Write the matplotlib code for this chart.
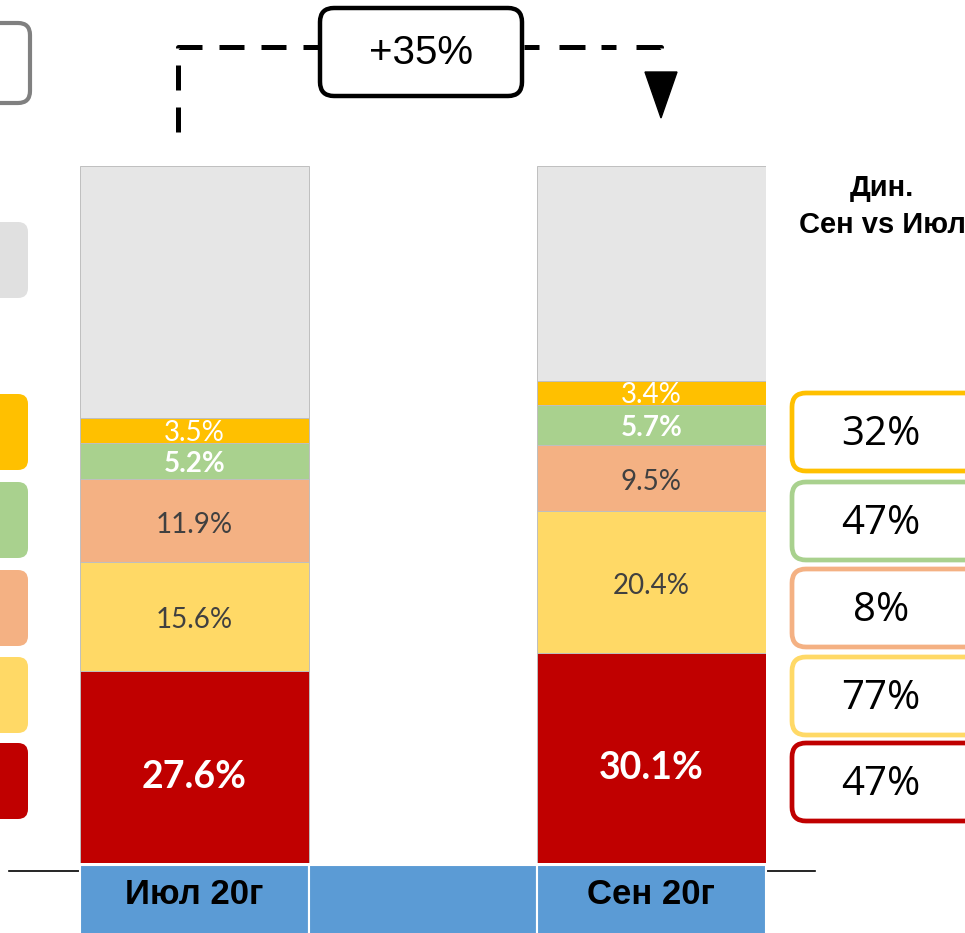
import numpy as np
import matplotlib.pyplot as plt
from matplotlib.patches import FancyBboxPatch, Rectangle, Polygon
from matplotlib.transforms import blended_transform_factory

# данные
months = ['Июл 20г', 'Сен 20г']
red_share = [27.6, 30.1]
yellow_share = [15.6, 20.4]
orange_share = [11.9, 9.5]
green_share = [5.2, 5.7]
gold_share = [3.5, 3.4]
dyn_labels = ['47%', '77%', '8%', '47%', '32%']   # снизу вверх
growth_label = '+35%'

colors = ['#C00000', '#FFD966', '#F4B183', '#A9D18E', '#FFC000']
grey = '#E6E6E6'

fig = plt.figure(figsize=(9.65, 9.33), dpi=100)

# оверлей в пикселях
ov = fig.add_axes([0, 0, 1, 1], zorder=0)
ov.set_xlim(0, 965)
ov.set_ylim(933, 0)
ov.axis('off')

# ось столбцов
ax = fig.add_axes([80/965, (933-863)/933, 685.5/965, (863-166)/933], zorder=1)
ax.patch.set_alpha(0)
x = np.arange(len(months))
series = [red_share, yellow_share, orange_share, green_share, gold_share]
bottom = np.zeros(len(months))
for vals, c in zip(series, colors):
    ax.bar(x, vals, 0.5, bottom=bottom, color=c, edgecolor='#BFBFBF', linewidth=0.7)
    bottom += np.array(vals)
rest = 100 - bottom
ax.bar(x, rest, 0.5, bottom=bottom, color=grey, edgecolor='#BFBFBF', linewidth=0.7)
ax.set_xlim(-0.25, 1.25)
ax.set_ylim(0, 100)
ax.axis('off')

# подписи сегментов
lab_font = 'Lato'
bottom = np.zeros(len(months))
for k, vals in enumerate(series):
    for i, v in enumerate(vals):
        yc = bottom[i] + v / 2
        if k == 0:
            ax.text(i, yc - 1.4, f'{v}%', ha='center', va='center', color='white',
                    fontsize=27, fontweight='bold', family=lab_font)
        elif k in (1, 2):
            ax.text(i, yc - 0.6, f'{v}%', ha='center', va='center', color='#404040',
                    fontsize=20, family=lab_font)
        elif k == 3:
            ax.text(i, yc - 0.4, f'{v}%', ha='center', va='center', color='white',
                    fontsize=20, fontweight='bold', family=lab_font)
        else:
            ax.text(i, yc - 0.3, f'{v}%', ha='center', va='center', color='white',
                    fontsize=20, family=lab_font)
    bottom += np.array(vals)

# ось категорий (синие ячейки)
tr = blended_transform_factory(ax.transData, ov.transData)
ov.plot([9, 815], [871, 871], color='black', lw=1.2, zorder=1)
for x0 in [-0.25, 0.25, 0.75]:
    ov.add_patch(Rectangle((x0, 865), 0.5, 70, transform=tr, facecolor='#5B9BD5',
                           edgecolor='white', linewidth=1.5, zorder=2, clip_on=False))
for i, m in enumerate(months):
    ov.text(i, 895, m, transform=tr, ha='center', va='center', fontsize=25,
            fontweight='bold', family='Liberation Sans', color='black', zorder=3)

# стрелка роста
ov.plot([178, 178, 318], [132, 47, 47], color='black', lw=3.6,
        ls=(0, (5, 3.4)), solid_capstyle='butt', dash_capstyle='butt')
ov.plot([524, 661, 661], [47, 47, 53], color='black', lw=3.6,
        ls=(0, (3, 4, 5.2, 3.2)), dash_capstyle='butt')
ov.add_patch(Polygon([(645, 72), (677, 72), (661, 118)], closed=True, color='black'))
ov.add_patch(FancyBboxPatch((320, 8), 202, 88, boxstyle='round,pad=0,rounding_size=14',
                            facecolor='white', edgecolor='black', linewidth=3.2))
ov.text(421, 53, growth_label, ha='center', va='center', fontsize=29,
        family='Liberation Sans', color='black')

# заголовок динамики
ov.text(882, 188, 'Дин.', ha='center', va='center', fontsize=21,
        fontweight='bold', family='Liberation Sans')
ov.text(882, 225, 'Сен vs Июл', ha='center', va='center', fontsize=21,
        fontweight='bold', family='Liberation Sans')

# рамки динамики справа
box_y = [782, 696, 608, 521, 432]
for yc, lab, c in zip(box_y, dyn_labels, colors):
    ov.add_patch(FancyBboxPatch((792, yc - 39), 200, 78, boxstyle='round,pad=0,rounding_size=14',
                                facecolor='white', edgecolor=c, linewidth=3.4))
    ov.text(881, yc + 3, lab, ha='center', va='center', fontsize=29,
            family='Open Sans', color='black')

# легенда-плашки слева
left_y = [781, 695, 608, 520, 432]
for yc, c in zip(left_y, colors):
    ov.add_patch(FancyBboxPatch((-30, yc - 38), 58, 76, boxstyle='round,pad=0,rounding_size=10',
                                facecolor=c, edgecolor='none'))
ov.add_patch(FancyBboxPatch((-30, 222), 58, 76, boxstyle='round,pad=0,rounding_size=10',
                            facecolor='#E0E0E0', edgecolor='none'))
ov.add_patch(FancyBboxPatch((-30, 23), 60, 80, boxstyle='round,pad=0,rounding_size=12',
                            facecolor='white', edgecolor='#808080', linewidth=3.0))

fig.savefig('out.png', dpi=100)
